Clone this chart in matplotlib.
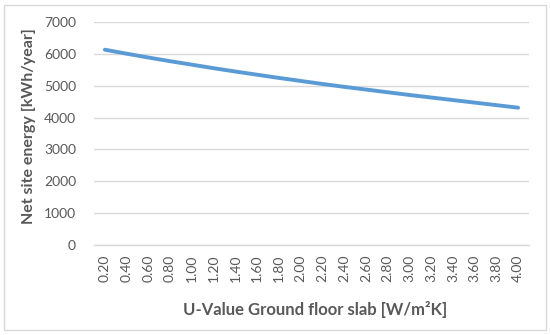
import matplotlib.pyplot as plt
from matplotlib.patches import Rectangle

# U-value categories and net site energy
u_werte = ["0.20", "0.40", "0.60", "0.80", "1.00", "1.20", "1.40", "1.60", "1.80", "2.00",
           "2.20", "2.40", "2.60", "2.80", "3.00", "3.20", "3.40", "3.60", "3.80", "4.00"]
energie = [6130, 6005, 5885, 5770, 5660, 5550, 5445, 5345, 5245, 5150,
           5055, 4965, 4880, 4795, 4710, 4630, 4550, 4470, 4390, 4310]
y_ticks = [0, 1000, 2000, 3000, 4000, 5000, 6000, 7000]

textfarbe = "#595959"
gitterfarbe = "#D9D9D9"
plt.rcParams["font.family"] = ["Lato", "DejaVu Sans"]

fig = plt.figure(figsize=(5.5, 3.35), dpi=100)
ax = fig.add_axes([94 / 550, 1 - 245 / 335, 435 / 550, 223 / 335])

x = list(range(len(u_werte)))
ax.plot(x, energie, color="#5B9BD5", linewidth=2.8, solid_capstyle="round", zorder=3)

ax.set_xlim(-0.5, len(u_werte) - 0.5)
ax.set_ylim(0, 7000)
ax.set_yticks(y_ticks)
ax.set_yticklabels([str(v) for v in y_ticks])
ax.set_xticks(x)
ax.set_xticklabels(u_werte, rotation=90)
ax.tick_params(axis="both", length=0, colors=textfarbe, labelsize=10)
ax.tick_params(axis="y", pad=13)
ax.tick_params(axis="x", pad=7)

ax.grid(axis="y", color=gitterfarbe, linewidth=1)
ax.set_axisbelow(True)
for s in ["top", "right", "left"]:
    ax.spines[s].set_visible(False)
ax.spines["bottom"].set_color(gitterfarbe)
ax.spines["bottom"].set_linewidth(1)

fig.text(29 / 550, 1 - 126 / 335, "Net site energy [kWh/year]", fontsize=11.5, fontweight="bold",
         color=textfarbe, rotation=90, ha="center", va="center")
fig.text(315 / 550, 1 - 310 / 335, "U-Value Ground floor slab [W/m\u00b2K]", fontsize=12,
         fontweight="bold", color=textfarbe, ha="center", va="center")

# Rahmen um das Diagramm
fig.patches.append(Rectangle((4 / 550, 1 - 330 / 335), 542 / 550, 325 / 335, transform=fig.transFigure,
                             fill=False, edgecolor=gitterfarbe, linewidth=1))

fig.savefig("out.png", dpi=100, facecolor="white")
